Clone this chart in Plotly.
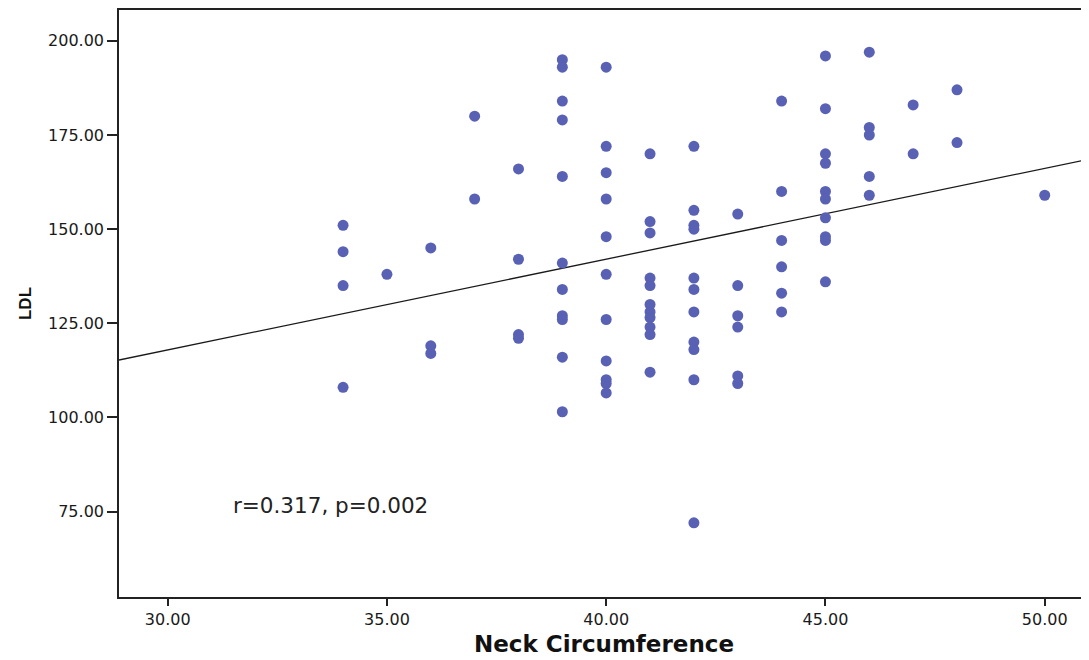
import numpy as np
import plotly.graph_objects as go

# Neck circumference (cm) and LDL values
neck = ([34] * 4 + [35] * 1 + [36] * 3 + [37] * 2 + [38] * 4 + [39] * 11 + [40] * 11 +
        [41] * 11 + [42] * 11 + [43] * 6 + [44] * 6 + [45] * 10 + [46] * 5 + [47] * 2 +
        [48] * 2 + [50] * 1)
ldl = [
    151, 144, 135, 108,                                     # 34
    138,                                                    # 35
    145, 119, 117,                                          # 36
    180, 158,                                               # 37
    166, 142, 122, 121,                                     # 38
    195, 193, 184, 179, 164, 141, 134, 127, 126, 116, 101.5,  # 39
    193, 172, 165, 158, 148, 138, 126, 115, 110, 109, 106.5,  # 40
    170, 152, 149, 137, 135, 130, 128, 126.5, 124, 122, 112,  # 41
    172, 155, 151, 150, 137, 134, 128, 120, 118, 110, 72,   # 42
    154, 135, 127, 124, 111, 109,                           # 43
    184, 160, 147, 140, 133, 128,                           # 44
    196, 182, 170, 167.5, 160, 158, 153, 148, 147, 136,     # 45
    197, 177, 175, 164, 159,                                # 46
    183, 170,                                               # 47
    187, 173,                                               # 48
    159,                                                    # 50
]
x_ticks = [30, 35, 40, 45, 50]
y_ticks = [75, 100, 125, 150, 175, 200]
x_range = [28.89, 51.01]
y_range = [52.3, 208.2]
stat_text = "r=0.317, p=0.002"

slope, intercept = np.polyfit(neck, ldl, 1)
fit_x = np.array(x_range)
fit_y = intercept + slope * fit_x

fig = go.Figure()
fig.add_trace(go.Scatter(
    x=fit_x, y=fit_y, mode="lines",
    line=dict(color="#1a1a1a", width=1.3),
    hoverinfo="skip", showlegend=False,
))
fig.add_trace(go.Scatter(
    x=neck, y=ldl, mode="markers",
    marker=dict(color="rgb(88,97,180)", size=11, line=dict(width=0)),
    showlegend=False,
))

tick_font = dict(family="DejaVu Sans", size=16, color="#1a1a1a")
# page body has an 8px margin, so the figure is sized/offset to compensate
fig.update_layout(
    width=1081, height=652,
    margin=dict(l=111, r=0, t=2, b=63, autoexpand=False),
    paper_bgcolor="white", plot_bgcolor="white",
    xaxis=dict(
        range=x_range, tickvals=x_ticks,
        ticktext=[f"{v:.2f}" for v in x_ticks],
        showgrid=False, zeroline=False, automargin=False,
        showline=True, linecolor="#222222", linewidth=1.6, mirror=True,
        ticks="outside", ticklen=7, tickwidth=1.6, tickcolor="#222222",
        tickfont=tick_font,
        title=dict(text="<b>Neck Circumference</b>",
                   font=dict(family="DejaVu Sans", size=23, color="#111111"),
                   standoff=8),
    ),
    yaxis=dict(
        range=y_range, tickvals=y_ticks,
        ticktext=[f"{v:.2f}" for v in y_ticks],
        showgrid=False, zeroline=False, automargin=False,
        showline=True, linecolor="#222222", linewidth=1.6,
        ticks="outside", ticklen=10, tickwidth=1.6, tickcolor="#222222",
        tickfont=tick_font,
        title=dict(text="<b>LDL</b>",
                   font=dict(family="Liberation Sans", size=17, color="#111111"),
                   standoff=12),
    ),
    annotations=[dict(
        x=31.45, y=76.5, xref="x", yref="y", xanchor="left", yanchor="middle",
        text=stat_text, showarrow=False,
        font=dict(family="DejaVu Sans", size=21.5, color="#222222"),
    )],
)

fig.write_html("out.html")
